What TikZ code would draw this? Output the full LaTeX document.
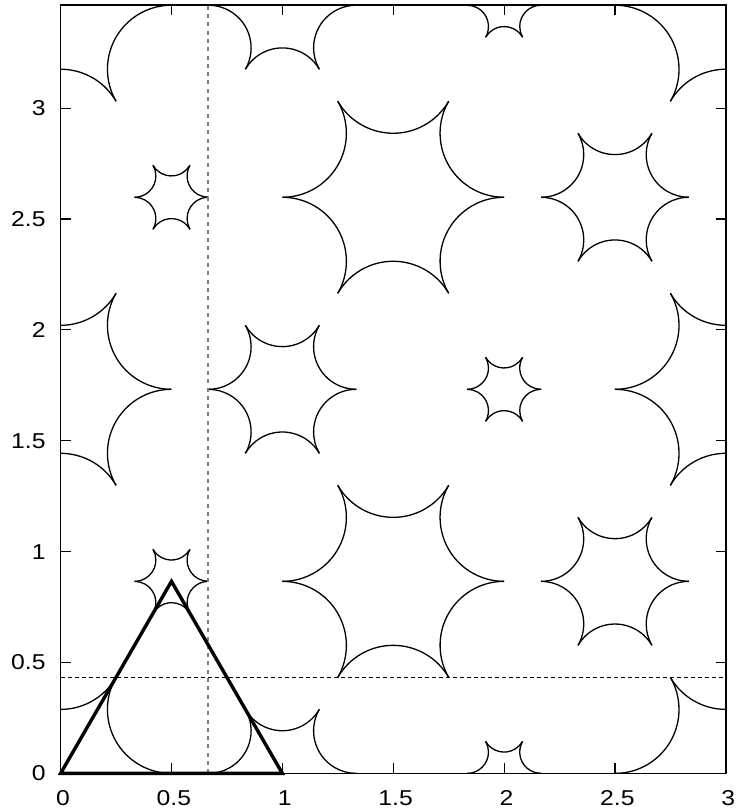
\documentclass[tikz,border=0pt]{standalone}
\usepackage{fontspec}
\setmainfont[FakeStretch=1.15]{Liberation Sans}
\begin{document}
\begin{tikzpicture}[x=221.75bp,y=221.75bp,
  holeline/.style={line width=1.3bp,black},
  tri/.style={line width=3.4bp,black,line join=miter},
  hdash/.style={line width=1bp,black,dash pattern=on 4bp off 3bp},
  vdash/.style={line width=1.9bp,black!50,dash pattern=on 4bp off 4.3bp},
  frame/.style={line width=1.5bp,black},
  tickmark/.style={line width=1.2bp,black},
  ticklabel/.style={inner sep=0pt,font=\fontsize{21.5bp}{24bp}\selectfont}]
\useasboundingbox (-0.27328,-0.17407) rectangle (3.04577,3.48771);
% holes: rings of six tangent circles around each lattice vertex
\begin{scope}
\clip (0,0) rectangle (3,3.4641016);
\foreach \j in {-1,...,5} {
  \foreach \i in {-4,...,5} {
    \pgfmathsetmacro\vx{\i+0.5*\j}
    \pgfmathsetmacro\vy{0.8660254*\j}
    \pgfmathtruncatemacro\cls{mod(\i+2*\j+30,3)}
    \pgfmathsetmacro\sc{1-\cls/3}
    \pgfmathsetmacro\dd{\sc*0.5773503}
    \pgfmathsetmacro\rr{\sc*0.2886751}
    \foreach \k in {0,...,5} {
      \pgfmathsetmacro\ta{30+60*\k}
      \pgfmathsetmacro\tb{\ta+120}
      \pgfmathsetmacro\tc{\ta+240}
      \draw[holeline] (\vx,\vy) ++(\ta:\dd) ++(\tb:\rr)
        arc[start angle=\tb,end angle=\tc,radius=\rr];
    }
  }
}
\end{scope}
% dashed guide lines
\coordinate (hl) at (0,0.4330127);
\coordinate (hr) at (3,0.4330127);
\coordinate (vb) at (0.6666667,0);
\coordinate (vt) at (0.6666667,3.4641016);
\draw[hdash] (hl) -- (hr);
\draw[vdash] (vb) -- (vt);
% triangle
\coordinate (A) at (0,0);
\coordinate (B) at (1,0);
\coordinate (C) at (0.5,0.8660254);
\draw[tri] (A) -- (B) -- (C) -- cycle;
% frame
\coordinate (SW) at (0,0);
\coordinate (NE) at (3,3.4641016);
\draw[frame] (SW) rectangle (NE);
% ticks and labels
\foreach \x in {0,0.5,1,1.5,2,2.5,3} {
  \draw[tickmark] (\x,0) -- ++(0,0.045);
  \draw[tickmark] (\x,3.4641016) -- ++(0,-0.045);
  \node[ticklabel,anchor=base] (xl\x) at (\x+0.011,-0.1448) {\x};
}
\foreach \y in {0,0.5,1,1.5,2,2.5,3} {
  \draw[tickmark] (0,\y) -- ++(0.045,0);
  \draw[tickmark] (3,\y) -- ++(-0.045,0);
  \node[ticklabel,anchor=east] (yl\y) at (-0.067,\y) {\y};
}
\end{tikzpicture}
\end{document}
